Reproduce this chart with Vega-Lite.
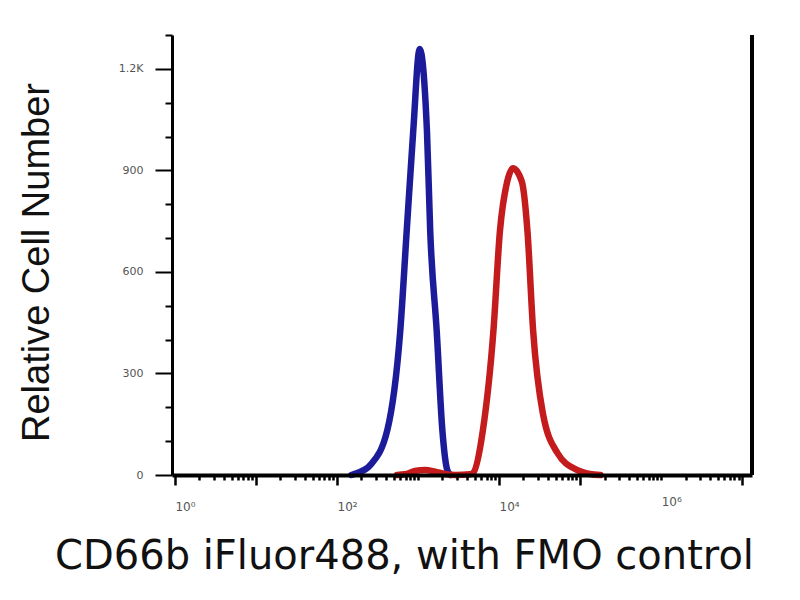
{
  "$schema": "https://vega.github.io/schema/vega-lite/v6.json",
  "autosize": {"type": "none"},
  "padding": {"left": 172, "top": 35, "right": 48, "bottom": 125},
  "width": 580,
  "height": 440,
  "background": "white",
  "config": {"view": {"stroke": null}},
  "data": {"values": [
    {"s": "FMO", "x": 150, "y": 0},
    {"s": "FMO", "x": 178, "y": 6},
    {"s": "FMO", "x": 257, "y": 29},
    {"s": "FMO", "x": 417, "y": 132},
    {"s": "FMO", "x": 603, "y": 426},
    {"s": "FMO", "x": 724, "y": 720},
    {"s": "FMO", "x": 871, "y": 1015},
    {"s": "FMO", "x": 1047, "y": 1259},
    {"s": "FMO", "x": 1288, "y": 1015},
    {"s": "FMO", "x": 1413, "y": 720},
    {"s": "FMO", "x": 1698, "y": 426},
    {"s": "FMO", "x": 1995, "y": 132},
    {"s": "FMO", "x": 2291, "y": 15},
    {"s": "FMO", "x": 2512, "y": 0},
    {"s": "CD66b", "x": 550, "y": 0},
    {"s": "CD66b", "x": 692, "y": 2},
    {"s": "CD66b", "x": 912, "y": 12},
    {"s": "CD66b", "x": 1230, "y": 15},
    {"s": "CD66b", "x": 1622, "y": 10},
    {"s": "CD66b", "x": 2138, "y": 3},
    {"s": "CD66b", "x": 2884, "y": 0},
    {"s": "CD66b", "x": 4365, "y": 2},
    {"s": "CD66b", "x": 4786, "y": 6},
    {"s": "CD66b", "x": 6310, "y": 132},
    {"s": "CD66b", "x": 8511, "y": 426},
    {"s": "CD66b", "x": 10233, "y": 720},
    {"s": "CD66b", "x": 12589, "y": 867},
    {"s": "CD66b", "x": 14791, "y": 906},
    {"s": "CD66b", "x": 19055, "y": 867},
    {"s": "CD66b", "x": 22387, "y": 720},
    {"s": "CD66b", "x": 26303, "y": 426},
    {"s": "CD66b", "x": 34674, "y": 182},
    {"s": "CD66b", "x": 52481, "y": 65},
    {"s": "CD66b", "x": 91201, "y": 15},
    {"s": "CD66b", "x": 131826, "y": 3},
    {"s": "CD66b", "x": 177828, "y": 0}
  ]},
  "layer": [
    {
      "mark": {"type": "line", "strokeWidth": 6.5, "strokeJoin": "round", "strokeCap": "round", "interpolate": "monotone"},
      "encoding": {
        "x": {
          "field": "x", "type": "quantitative",
          "scale": {"type": "log", "domain": [0.92, 13200000], "nice": false},
          "axis": {
            "title": "CD66b iFluor488, with FMO control",
            "titleFont": "DejaVu Sans", "titleFontSize": 40, "titleFontWeight": "normal", "titleColor": "#111",
            "titleAnchor": "middle", "titleX": 232, "titleY": 93, "titleBaseline": "alphabetic",
            "values": [1,2,3,4,5,6,7,8,9,10,20,30,40,50,60,70,80,90,100,200,300,400,500,600,700,800,900,1000,2000,3000,4000,5000,6000,7000,8000,9000,10000,20000,30000,40000,50000,60000,70000,80000,90000,100000,200000,300000,400000,500000,600000,700000,800000,900000,1000000,2000000,3000000,4000000,5000000,6000000,7000000,8000000,9000000,10000000],
            "labelExpr": "datum.value == 1 ? '10⁰' : datum.value == 100 ? '10²' : datum.value == 10000 ? '10⁴' : datum.value == 1000000 ? '10⁶' : ''",
            "labelFont": "DejaVu Sans", "labelFontSize": 12, "labelColor": "#555",
            "labelAlign": "left", "labelDx": 8, "labelPadding": 16, "labelFlush": false, "labelOverlap": false,
            "domainColor": "black", "domainWidth": 4,
            "tickColor": "black", "tickWidth": 2.5,
            "tickSize": {"condition": {"test": "log(datum.value)/LN10 % 1 < 0.001", "value": 10}, "value": 5},
            "grid": false, "zindex": 1
          }
        },
        "y": {
          "field": "y", "type": "quantitative",
          "scale": {"domain": [0, 1300], "nice": false},
          "axis": {
            "title": "Relative Cell Number",
            "titleFont": "Liberation Sans", "titleFontSize": 38, "titleFontWeight": "normal", "titleColor": "#111",
            "titleAnchor": "middle", "titleX": -124, "titleY": 227, "titleAngle": -90, "titleBaseline": "alphabetic",
            "values": [0,100,200,300,400,500,600,700,800,900,1000,1100,1200,1300],
            "labelExpr": "datum.value % 300 === 0 ? (datum.value >= 1000 ? format(datum.value/1000, '.1f') + 'K' : datum.value + '') : ''",
            "labelFont": "DejaVu Sans", "labelFontSize": 11, "labelColor": "#555", "labelPadding": 12,
            "domainColor": "black", "domainWidth": 3,
            "tickColor": "black", "tickWidth": 2,
            "tickSize": {"condition": {"test": "datum.value % 300 === 0", "value": 17}, "value": 7},
            "grid": false, "zindex": 1
          }
        },
        "color": {
          "field": "s", "type": "nominal",
          "scale": {"domain": ["FMO", "CD66b"], "range": ["#1c1c9a", "#c41c1c"]},
          "legend": null
        }
      }
    },
    {
      "mark": {"type": "rule", "color": "black", "strokeWidth": 3},
      "encoding": {"x": {"datum": 13200000}}
    }
  ]
}
